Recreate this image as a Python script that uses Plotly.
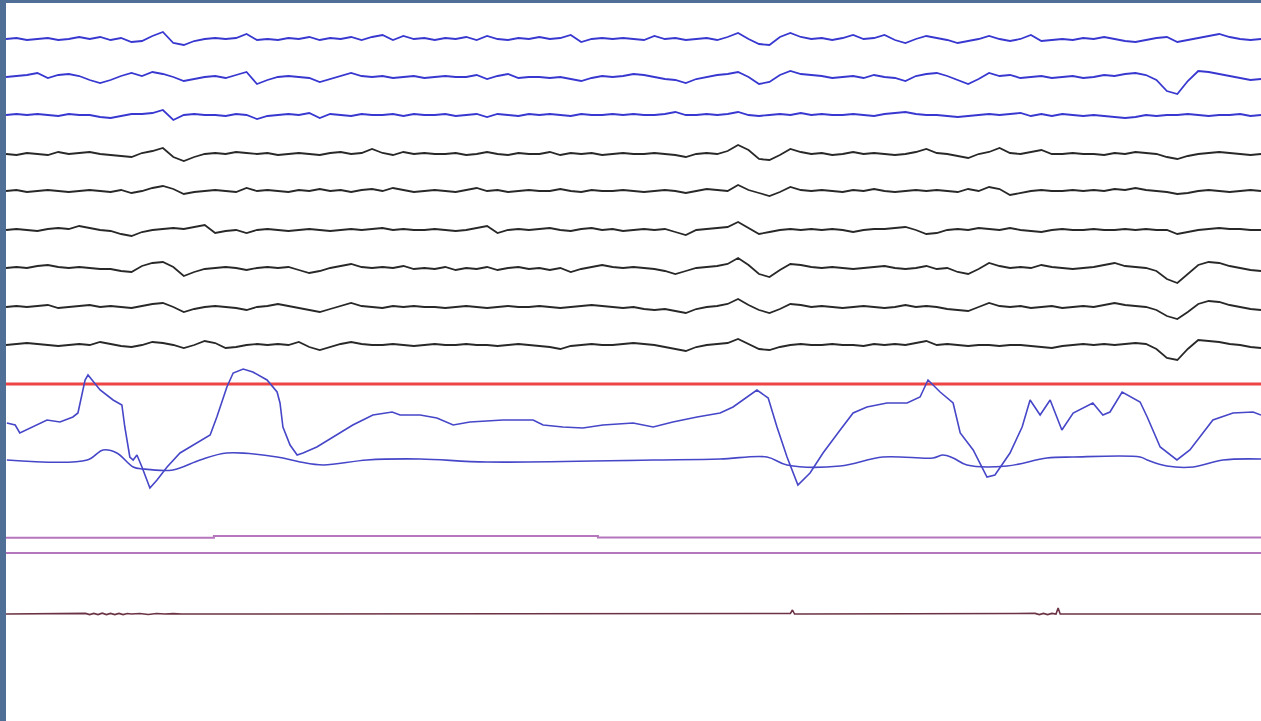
import plotly.graph_objects as go

# ---------------- data (30 s epoch, display units; positive = up) ----------------
EPOCH_SECONDS = 30.0
EEG_SAMPLE_PERIOD = 0.25  # s

ch1_blue = [0,1,-1,0,1,-1,0,2,0,2,
            -1,1,-3,-2,3,7,-4,-6,-2,0,
            1,0,1,5,-1,0,-1,1,0,2,
            -1,1,0,2,-1,2,4,-1,3,0,
            1,-1,1,0,2,-1,3,0,-1,1,
            0,2,0,1,4,-3,0,1,0,1,
            0,-1,3,0,1,-1,0,1,-1,2,
            6,0,-5,-6,2,6,2,0,1,-1,
            1,4,0,1,4,-1,-4,0,3,1,
            -1,-4,-2,0,3,0,-2,0,4,-2,
            -1,0,-1,1,0,2,0,-2,-3,-1,
            1,2,-3,-1,1,3,5,2,0,-1,
            0]
ch2_blue = [0,1,2,4,-1,2,3,1,-3,-6,
            -3,1,4,1,5,3,0,-4,-2,0,
            1,-1,2,5,-7,-3,0,1,0,-1,
            -5,-2,1,4,1,0,1,-1,0,1,
            -1,0,1,0,0,2,-2,1,3,-1,
            0,0,-1,0,-2,-4,-1,1,0,1,
            3,2,0,-2,-3,-6,-2,0,2,3,
            5,0,-7,-5,2,6,3,2,1,-1,
            0,1,-1,2,0,-1,-4,1,3,4,
            1,-3,-7,-2,4,1,2,-1,0,1,
            -1,0,1,-1,0,2,1,3,4,2,
            -3,-14,-17,-4,6,5,3,1,-1,-3,
            -2]
ch3_blue = [0,1,0,1,0,-1,1,0,0,-2,
            -3,-1,1,1,2,5,-5,0,1,0,
            0,-1,1,0,-4,-1,0,1,0,2,
            -3,1,0,-1,1,0,0,1,-1,1,
            0,0,1,-1,0,1,-2,1,0,-1,
            1,0,1,0,-1,1,0,0,1,0,
            1,0,0,1,3,0,0,1,0,1,
            3,0,-1,0,1,0,2,0,1,0,
            0,1,0,-1,1,2,3,1,0,0,
            -1,-2,-1,0,1,0,1,2,-1,1,
            -1,1,0,-1,0,-1,-2,-3,-2,0,
            -1,0,0,1,0,-1,0,0,1,-1,
            0]
ch4_black = [0,-1,1,0,-1,2,0,1,2,0,
             -1,-2,-3,1,3,6,-3,-7,-3,0,
             1,0,2,1,0,1,-1,0,1,0,
             -1,1,2,0,1,5,1,-1,2,0,
             1,0,0,1,-1,0,2,0,-1,1,
             0,0,2,-1,1,0,1,-1,0,1,
             0,0,1,0,-1,-3,0,1,0,3,
             9,4,-5,-6,-1,5,2,0,1,-1,
             0,2,0,1,0,-1,0,2,5,1,
             0,-2,-4,0,2,6,1,0,2,4,
             0,0,1,0,0,-1,1,0,2,1,
             0,-3,-5,-2,0,1,2,1,0,-1,
             0]
ch5_black = [0,1,-1,0,1,0,-1,0,1,0,
             -1,1,-2,0,3,5,2,-3,-1,0,
             1,0,-1,3,0,1,0,-1,1,0,
             2,0,1,-1,1,2,0,3,1,-1,
             0,1,0,-1,1,3,0,1,-1,0,
             1,0,0,2,0,-1,1,0,0,1,
             0,-1,0,1,0,-2,0,2,1,0,
             6,1,-2,-5,-1,4,1,0,1,0,
             -1,1,0,2,0,-1,0,1,0,1,
             0,-1,2,0,4,2,-4,-2,0,1,
             0,0,1,0,1,0,2,1,3,1,
             0,-1,-3,-2,0,1,0,-1,0,1,
             0]
ch6_black = [0,1,0,-1,1,2,1,4,2,0,
             -1,-4,-6,-2,0,1,2,1,3,5,
             -3,-1,0,-3,0,1,0,-1,0,1,
             0,-1,0,1,0,1,2,0,1,0,
             0,1,0,-1,0,2,4,-3,0,1,
             0,1,2,0,-1,1,2,0,1,-1,
             0,1,0,1,-2,-5,0,1,2,3,
             8,2,-4,-2,0,1,0,1,0,1,
             0,-2,0,1,1,2,3,0,-4,-3,
             0,1,0,2,1,0,2,0,-1,-2,
             0,1,0,0,1,0,0,1,0,1,
             0,0,-4,-2,0,1,2,1,1,0,
             0]
ch7_black = [0,1,0,2,3,1,0,1,0,-1,
             -1,-3,-4,2,5,6,1,-8,-4,-1,
             0,1,0,-2,0,1,0,1,-2,-5,
             -3,0,2,4,1,0,1,0,2,-1,
             0,-1,1,-2,0,-1,1,-2,0,1,
             -1,0,-2,0,-4,-1,1,3,1,0,
             1,0,-1,-3,-6,-3,0,1,2,4,
             10,3,-6,-9,-2,4,3,1,0,1,
             0,-1,0,1,2,0,-1,0,2,-1,
             0,-4,-6,-1,5,2,0,1,0,3,
             1,0,-1,0,1,3,5,2,1,0,
             -3,-11,-15,-6,3,6,5,2,0,-2,
             -3]
ch8_black = [0,1,0,1,2,-1,0,1,2,0,
             1,0,-1,1,3,4,0,-5,-2,0,
             1,0,-1,-3,0,1,3,1,-1,-3,
             -5,-2,1,4,1,0,-1,1,0,1,
             0,0,-1,0,1,0,-1,0,1,0,
             0,1,0,-1,0,1,2,1,0,-1,
             0,-2,-3,-2,-4,-6,-2,0,1,3,
             8,2,-3,-6,-2,3,2,0,1,0,
             -1,0,1,0,-1,0,2,0,1,0,
             -2,-3,-4,0,4,1,0,1,-1,0,
             1,-1,0,1,0,2,4,2,1,0,
             -3,-9,-12,-5,3,6,5,2,0,-2,
             -3]
ch9_black = [0,1,2,1,0,-1,0,1,0,3,
             1,-1,-2,0,3,2,0,-3,0,4,
             2,-3,-2,0,1,0,1,0,3,-2,
             -5,-2,1,3,1,0,0,1,0,-1,
             0,1,0,0,1,0,0,-1,0,1,
             0,-1,-2,-4,-1,0,1,0,0,1,
             2,1,0,-2,-4,-6,-2,0,1,2,
             6,1,-4,-5,-2,0,1,0,0,1,
             0,0,-1,1,0,1,0,2,4,0,
             1,0,-1,0,0,-1,0,0,-1,-2,
             -3,-1,0,1,0,1,0,1,2,1,
             -4,-13,-15,-4,5,4,3,1,0,-2,
             -3]

red_times = [0.0, 30.0]
red_vals = [0, 0]

resp_times = [0.02,0.22,0.33,0.65,0.98,1.29,1.60,1.72,1.89,1.96,2.25,2.56,2.77,2.84,2.96,3.04,3.13,3.25,3.44,3.61,
              3.85,4.16,4.47,4.88,5.04,5.28,5.43,5.67,5.90,6.24,6.48,6.55,6.62,6.79,6.96,7.10,7.43,7.82,8.29,8.77,
              9.23,9.42,9.90,10.30,10.69,11.09,11.88,12.60,12.84,13.31,13.79,14.27,14.99,15.47,15.94,16.52,17.07,17.38,17.62,17.95,
              18.22,18.43,18.67,18.93,19.22,19.53,19.94,20.25,20.58,21.06,21.54,21.85,22.04,22.33,22.64,22.81,23.12,23.28,23.45,23.64,
              24.00,24.29,24.48,24.72,24.96,25.24,25.51,25.98,26.22,26.39,26.68,27.11,27.28,27.59,27.99,28.30,28.85,29.33,29.81,30.00]
resp_vals = [7,5,-3,3,10,8,13,17,50,55,40,30,25,3,-27,-30,-25,-37,-58,-50,
             -37,-23,-15,-5,13,43,57,61,58,50,38,27,3,-15,-25,-23,-17,-7,5,15,
             18,15,15,12,5,8,10,10,5,3,2,5,7,3,8,13,17,23,30,40,
             32,3,-27,-55,-43,-23,0,17,23,27,27,33,50,38,27,-3,-20,-33,-47,-45,
             -23,3,30,15,30,0,17,27,15,18,38,28,13,-17,-30,-20,10,17,18,15]

effort_times = [0.02,1.94,2.32,2.65,3.04,3.28,3.99,4.64,5.28,6.48,7.03,7.58,8.63,9.90,11.50,15.47,17.07,18.19,18.67,19.94,
                20.96,22.16,22.40,22.64,22.97,23.93,24.88,25.51,27.11,27.28,27.75,28.38,29.09,30.00]
effort_vals = [0,0,10,7,-7,-9,-10,0,7,3,-2,-5,0,1,-2,0,1,3,-5,-6,
               3,2,5,2,-5,-6,2,3,3,0,-6,-7,0,1]

pink1_times = [0.0, 4.97, 14.15, 30.0]
pink1_vals = [-0.7, 1.0, -0.5, -0.5]
pink2_times = [0.0, 30.0]
pink2_vals = [0, 0]

emg_times = [0.0,1.8,1.9,2.0,2.1,2.2,2.3,2.4,2.5,2.6,2.7,2.8,2.9,3.0,3.2,3.4,3.6,3.8,4.0,4.2,
             6.0,10.0,14.0,18.0,18.6,18.75,18.8,18.85,19.0,22.0,24.5,24.6,24.7,24.8,24.9,25.0,25.1,25.15,25.2,25.3,
             26.0,30.0]
emg_vals = [0,0,0.6,-0.6,0.6,-0.6,0.8,-0.6,0.6,-0.6,0.6,-0.6,0.5,0,0.5,-0.5,0.5,0,0.4,0,
            0,0,0,0,0,0.5,4,0,0,0,0,0.6,-0.6,0.6,-0.6,0.6,0,6,0,0,
            0,0]

# ---------------- layout of channels (display units, 1 unit = 1 px) ----------------
Y_RANGE = 718
channels = [
    (ch1_blue, 682, "#3838d0", 1.8),
    (ch2_blue, 644, "#3838d0", 1.8),
    (ch3_blue, 606, "#3838d0", 1.8),
    (ch4_black, 567, "#282828", 1.8),
    (ch5_black, 530, "#282828", 1.8),
    (ch6_black, 491, "#282828", 1.8),
    (ch7_black, 453, "#282828", 1.8),
    (ch8_black, 414, "#282828", 1.8),
    (ch9_black, 376, "#282828", 1.8),
]

fig = go.Figure()

for vals, offset, color, width in channels:
    assert len(vals) == 121, len(vals)
    times = [i * EEG_SAMPLE_PERIOD for i in range(len(vals))]
    fig.add_trace(go.Scatter(x=times, y=[offset + v for v in vals], mode="lines",
                             line=dict(color=color, width=width), hoverinfo="skip"))

fig.add_trace(go.Scatter(x=red_times, y=[337 + v for v in red_vals], mode="lines",
                         line=dict(color="#ee4444", width=3)))
fig.add_trace(go.Scatter(x=resp_times, y=[291 + v for v in resp_vals], mode="lines",
                         line=dict(color="#4646c8", width=1.6)))
fig.add_trace(go.Scatter(x=effort_times, y=[261 + v for v in effort_vals], mode="lines",
                         line=dict(color="#4646c8", width=1.6, shape="spline")))
fig.add_trace(go.Scatter(x=pink1_times, y=[184 + v for v in pink1_vals], mode="lines",
                         line=dict(color="#b676be", width=2, shape="hv")))
fig.add_trace(go.Scatter(x=pink2_times, y=[168 + v for v in pink2_vals], mode="lines",
                         line=dict(color="#b676be", width=2)))
fig.add_trace(go.Scatter(x=emg_times, y=[107 + v for v in emg_vals], mode="lines",
                         line=dict(color="#6b3344", width=1.6)))

fig.update_layout(
    width=1261, height=721,
    margin=dict(l=6, r=0, t=3, b=0),
    paper_bgcolor="#4f6f96",
    plot_bgcolor="#ffffff",
    showlegend=False,
    xaxis=dict(range=[0, EPOCH_SECONDS], visible=False, fixedrange=True),
    yaxis=dict(range=[0, Y_RANGE], visible=False, fixedrange=True),
)

fig.write_html("out.html", config={"displayModeBar": False},
               post_script="document.body.style.margin='0';document.body.style.overflow='hidden';")
